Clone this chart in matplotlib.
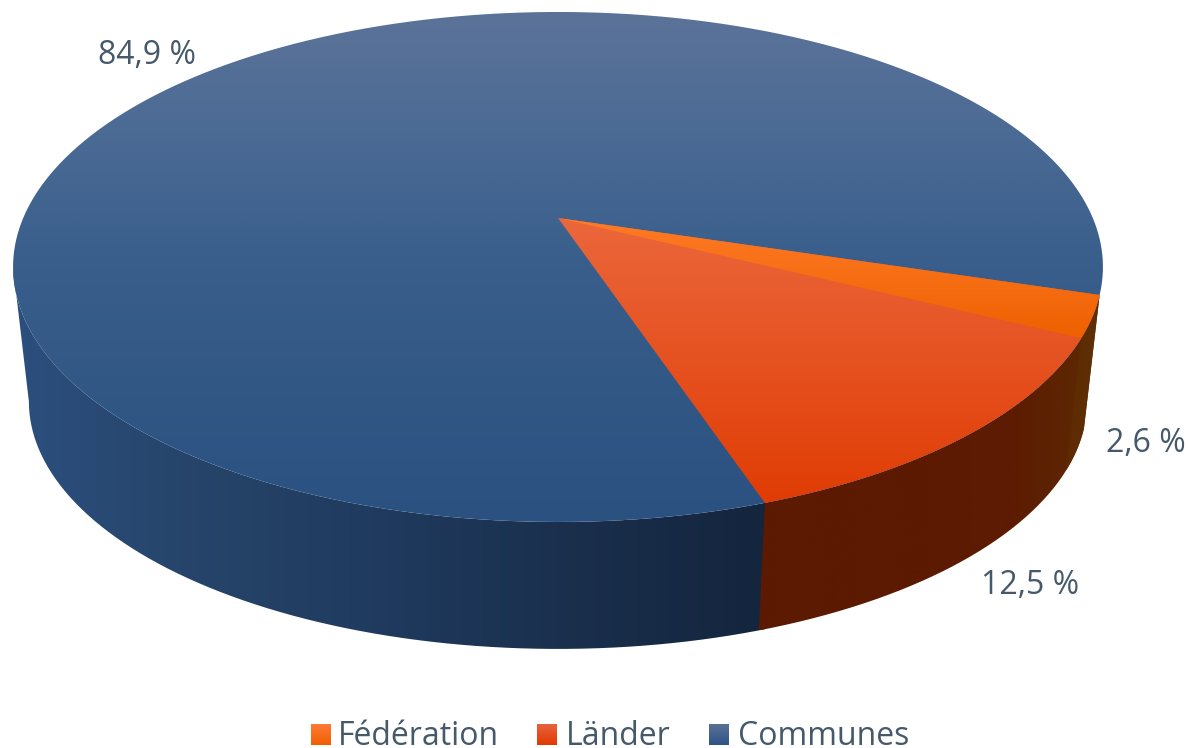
import numpy as np
import matplotlib
matplotlib.use("Agg")
import matplotlib.pyplot as plt
from matplotlib.colors import LinearSegmentedColormap
from matplotlib.patches import PathPatch
from matplotlib.path import Path

plt.rcParams["font.family"] = ["Open Sans", "DejaVu Sans"]

# --- Data ---
categories = ["Fédération", "Länder", "Communes"]
shares = [2.6, 12.5, 84.9]
value_label_xy = [(1146, 443), (1030, 585), (147, 55)]

ORANGE_TOP = ["#ff7b26", "#ee6000"]
RED_TOP = ["#eb673c", "#e03c04"]
BLUE_TOP = ["#5c7399", "#4a6a94", "#395e8b", "#315785", "#2b5181"]
BLUE_WALL = ["#2c4f7e", "#264469", "#1f3a5e", "#1a2f4c", "#14253e"]
RED_WALL = ["#5c1a02", "#5c1a02", "#5c1a02", "#5c1c02", "#5e2a02"]
ORANGE_WALL = ["#5e2a02", "#5e3006"]
KEY_COLORS = [("#ff7a38", "#f05f00"), ("#e8623e", "#e23a02"), ("#5a7197", "#2e5487")]
TEXT_COLOR = "#45596b"

# Projection of the disc, in pixels
APEX_X, APEX_Y = 558.0, 218.0
RADIUS_X, RADIUS_Y, TILT = 534.8, 245.6, 0.192
START_DEG = -17.2
DEPTH_SCALE, VANISH_Y = 0.971, 4900.0


def rim(deg):
    rad = np.radians(deg)
    w = 1 + TILT * np.sin(rad)
    return APEX_X + RADIUS_X * np.cos(rad) / w, APEX_Y - RADIUS_Y * np.sin(rad) / w


def lower(x, y):
    return (
        APEX_X + DEPTH_SCALE * (x - APEX_X),
        VANISH_Y + DEPTH_SCALE * (y - VANISH_Y),
    )


def fill_gradient(ax, verts, colors, zorder, span=None, horizontal=False):
    verts = np.asarray(verts)
    x0, y0 = verts.min(axis=0)
    x1, y1 = verts.max(axis=0)
    if span is not None and horizontal:
        x0, x1 = span
    elif span is not None:
        y0, y1 = span
    cmap = LinearSegmentedColormap.from_list("fill", colors)
    ramp = np.linspace(0, 1, 512)
    ramp = ramp[None, :] if horizontal else ramp[:, None]
    im = ax.imshow(ramp, cmap=cmap, extent=(x0, x1, y1, y0), aspect="auto",
                   interpolation="bilinear", zorder=zorder)
    patch = PathPatch(Path(np.vstack([verts, verts[0]])), transform=ax.transData,
                      facecolor="none", edgecolor="none")
    ax.add_patch(patch)
    im.set_clip_path(patch)


def wall(start, end):
    deg = np.linspace(start, end, 160)
    x, y = rim(deg)
    bx, by = lower(x, y)
    return np.vstack([np.column_stack([x, y]), np.column_stack([bx, by])[::-1]])


def wedge(start, end):
    deg = np.linspace(start, end, 600)
    x, y = rim(deg)
    return np.vstack([[APEX_X, APEX_Y], np.column_stack([x, y])])


# --- Angles, clockwise from the start ---
spans = np.array(shares) * 3.6
ends = START_DEG - np.cumsum(spans)
starts = np.concatenate([[START_DEG], ends[:-1]])

# The wall's left edge is the tangent at the disc's leftmost point
left_tangent = -180 + np.degrees(np.arcsin(TILT))

fig = plt.figure(figsize=(11.88, 7.48), dpi=100)
ax = fig.add_axes([0, 0, 1, 1])

# Side walls, back to front, each one running under its neighbour
fill_gradient(ax, wall(starts[2] + 10, left_tangent), BLUE_WALL, 1, span=(10, 765), horizontal=True)
fill_gradient(ax, wall(starts[0], ends[1]), RED_WALL, 2, horizontal=True)
fill_gradient(ax, wall(starts[0], ends[0]), ORANGE_WALL, 3, horizontal=True)

# Top faces, same idea
disc_x, disc_y = rim(np.linspace(0, 360, 900))
fill_gradient(ax, np.column_stack([disc_x, disc_y]), BLUE_TOP, 4)
fill_gradient(ax, wedge(starts[0], ends[1]), RED_TOP, 5, span=(218, 505))
fill_gradient(ax, wedge(starts[0], ends[0]), ORANGE_TOP, 6, span=(218, 340))

# Value labels
for value, (tx, ty) in zip(shares, value_label_xy):
    label = f"{value:.1f} %".replace(".", ",")
    ax.text(tx, ty, label, color=TEXT_COLOR, fontsize=23, ha="center", va="center", zorder=8)

# Legend
key_x = [311, 537, 709]
text_x = [338, 566, 738]
for name, kx, tx, colors in zip(categories, key_x, text_x, KEY_COLORS):
    box = [(kx, 724), (kx + 20, 724), (kx + 20, 745), (kx, 745)]
    fill_gradient(ax, box, colors, 7)
    ax.text(tx, 745, name, color=TEXT_COLOR, fontsize=23, ha="left", va="baseline", zorder=8)

ax.set_xlim(0, 1188)
ax.set_ylim(748, 0)
ax.axis("off")
fig.savefig("out.png", dpi=100, facecolor="white")
